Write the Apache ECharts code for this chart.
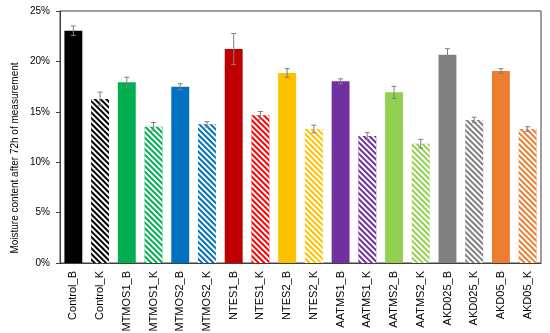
<!DOCTYPE html>
<html><head><meta charset="utf-8">
<script src="https://cdn.jsdelivr.net/npm/echarts@6/dist/echarts.min.js"></script>
<style>html,body{margin:0;padding:0;background:#fff}#c{width:550px;height:333px}</style>
</head><body><div id="c"></div>
<script>
const categories = ['Control_B','Control_K','MTMOS1_B','MTMOS1_K','MTMOS2_B','MTMOS2_K','NTES1_B','NTES1_K','NTES2_B','NTES2_K','AATMS1_B','AATMS1_K','AATMS2_B','AATMS2_K','AKD025_B','AKD025_K','AKD05_B','AKD05_K'];
const values = [23.05,16.27,17.93,13.52,17.49,13.76,21.23,14.65,18.85,13.29,18.02,12.6,16.93,11.83,20.66,14.19,19.05,13.29];
const errors = [0.47,0.68,0.5,0.42,0.3,0.26,1.54,0.38,0.43,0.38,0.25,0.33,0.6,0.43,0.6,0.27,0.23,0.23];
const colors = ['#000000','#000000','#00b050','#00b050','#0070c0','#0070c0','#c00000','#ff0000','#ffc000','#ffc000','#7030a0','#7030a0','#92d050','#92d050','#808080','#808080','#ed7d31','#ed7d31'];
const hatched = [false,true,false,true,false,true,false,true,false,true,false,true,false,true,false,true,false,true];
const yTitle = 'Moisture content after 72h of measurement';

const font = '"Liberation Sans", Arial, sans-serif';
const barData = values.map((v,i)=>{
  const it = {color: colors[i]};
  if (hatched[i]) it.decal = {symbol:'rect', symbolSize:1, dashArrayX:[[1,0]], dashArrayY:[1.2,1.2], rotation: Math.PI/4, color:'#ffffff'};
  return {value: v, itemStyle: it};
});
const errData = values.map((v,i)=>[i, v-errors[i], v+errors[i]]);

const chart = echarts.init(document.getElementById('c'), null, {renderer:'canvas'});
chart.setOption({
  animation:false,
  grid:{left:60,right:9,top:11,bottom:70,show:true,borderColor:'#404040',borderWidth:1,outerBoundsMode:'none',containLabel:false},
  graphic:[{type:'text',x:15,y:158,rotation:Math.PI/2,
    style:{text:yTitle,fontFamily:font,fontSize:10,fill:'#000',textAlign:'center',textVerticalAlign:'middle'}}],
  xAxis:{type:'category',data:categories,
    axisLine:{lineStyle:{color:'#404040',width:1}},
    axisTick:{show:false},
    axisLabel:{rotate:90,interval:0,fontFamily:font,fontSize:11,color:'#000',margin:8}},
  yAxis:{type:'value',min:0,max:25,interval:5,
    axisLine:{show:true,lineStyle:{color:'#404040',width:1}},
    axisTick:{show:true,inside:false,length:4,lineStyle:{color:'#404040'}},
    splitLine:{show:false},
    axisLabel:{formatter:v=>v+'%',fontFamily:font,fontSize:10,color:'#000',margin:10}},
  series:[
    {type:'bar',data:barData,barWidth:'67%'},
    {type:'custom',data:errData,z:10,
      renderItem:(params,api)=>{
        const x=api.value(0);
        const lo=api.coord([x,api.value(1)]);
        const hi=api.coord([x,api.value(2)]);
        const w=2.5;
        const st={stroke:'#7f7f7f',lineWidth:1};
        return {type:'group',children:[
          {type:'line',shape:{x1:lo[0],y1:lo[1],x2:hi[0],y2:hi[1]},style:st},
          {type:'line',shape:{x1:lo[0]-w,y1:lo[1],x2:lo[0]+w,y2:lo[1]},style:st},
          {type:'line',shape:{x1:hi[0]-w,y1:hi[1],x2:hi[0]+w,y2:hi[1]},style:st}
        ]};
      }}
  ]
});
</script></body></html>
